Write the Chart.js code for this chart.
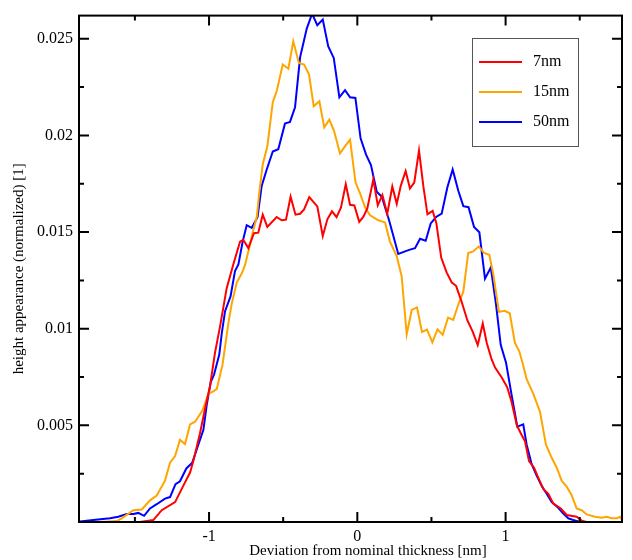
<!DOCTYPE html>
<html>
<head>
<meta charset="utf-8">
<script src="https://cdn.jsdelivr.net/npm/chart.js@4"></script>
<style>
  html, body { margin: 0; padding: 0; background: #fff; }
  #wrap { width: 632px; height: 560px; }
</style>
</head>
<body>
<div id="wrap"><canvas id="grafico"></canvas></div>
<script>
// datos
const x7 = [-1.465, -1.376, -1.319, -1.229, -1.162, -1.128, -1.106, -1.061, -1.027, -0.993, -0.960, -0.926, -0.881, -0.836, -0.791, -0.769, -0.735, -0.697, -0.668, -0.638, -0.607, -0.544, -0.510, -0.481, -0.450, -0.417, -0.386, -0.359, -0.324, -0.270, -0.233, -0.202, -0.171, -0.140, -0.110, -0.078, -0.049, -0.020, 0.013, 0.040, 0.067, 0.108, 0.138, 0.169, 0.202, 0.236, 0.266, 0.293, 0.326, 0.355, 0.384, 0.416, 0.445, 0.473, 0.508, 0.533, 0.566, 0.603, 0.637, 0.666, 0.704, 0.742, 0.778, 0.812, 0.846, 0.873, 0.906, 0.929, 0.974, 1.011, 1.041, 1.075, 1.102, 1.131, 1.158, 1.192, 1.220, 1.254, 1.288, 1.322, 1.372, 1.412, 1.479, 1.513, 1.547, 1.637];
const y7 = [0, 0.0001, 0.00061, 0.00103, 0.00205, 0.00256, 0.00315, 0.00459, 0.00586, 0.00705, 0.00875, 0.01011, 0.01210, 0.01333, 0.01450, 0.01460, 0.01417, 0.01494, 0.01497, 0.01590, 0.01527, 0.01578, 0.01561, 0.01564, 0.01683, 0.01590, 0.01595, 0.01617, 0.01681, 0.01633, 0.01480, 0.01566, 0.01607, 0.01577, 0.01628, 0.01748, 0.01641, 0.01638, 0.01553, 0.01578, 0.01621, 0.01773, 0.01638, 0.01692, 0.01595, 0.01736, 0.01646, 0.01739, 0.01816, 0.01726, 0.01756, 0.01922, 0.01739, 0.01592, 0.01610, 0.01546, 0.01367, 0.01290, 0.01239, 0.01222, 0.01138, 0.01044, 0.00985, 0.00915, 0.01027, 0.00926, 0.00841, 0.00799, 0.00748, 0.00697, 0.00620, 0.00502, 0.00459, 0.00417, 0.00315, 0.00281, 0.00230, 0.00171, 0.00146, 0.00095, 0.00070, 0.00036, 0.00027, 0.00007, 0, 0];

const x15 = [-1.735, -1.622, -1.589, -1.510, -1.454, -1.398, -1.353, -1.297, -1.263, -1.229, -1.196, -1.162, -1.128, -1.094, -1.044, -1.005, -0.975, -0.948, -0.909, -0.870, -0.847, -0.813, -0.779, -0.757, -0.724, -0.705, -0.678, -0.661, -0.638, -0.607, -0.570, -0.543, -0.503, -0.465, -0.432, -0.394, -0.359, -0.326, -0.294, -0.256, -0.223, -0.189, -0.157, -0.117, -0.083, -0.049, -0.012, 0.018, 0.052, 0.086, 0.142, 0.187, 0.220, 0.266, 0.299, 0.333, 0.367, 0.403, 0.436, 0.470, 0.506, 0.541, 0.576, 0.612, 0.647, 0.681, 0.715, 0.748, 0.782, 0.819, 0.854, 0.890, 0.917, 0.955, 0.993, 1.028, 1.063, 1.092, 1.114, 1.142, 1.187, 1.232, 1.272, 1.311, 1.345, 1.378, 1.412, 1.446, 1.479, 1.513, 1.547, 1.603, 1.648, 1.682, 1.716, 1.749, 1.771, 1.787];
const y15 = [0, 0.00005, 0.00019, 0.00061, 0.00065, 0.00112, 0.00137, 0.00214, 0.00307, 0.00341, 0.00426, 0.00403, 0.00505, 0.00519, 0.00578, 0.00663, 0.00675, 0.00688, 0.00814, 0.01027, 0.01129, 0.01239, 0.01287, 0.01330, 0.01434, 0.01500, 0.01578, 0.01705, 0.01850, 0.01943, 0.02172, 0.02231, 0.02367, 0.02345, 0.02487, 0.02375, 0.02367, 0.02316, 0.02151, 0.02177, 0.02042, 0.02082, 0.02024, 0.01907, 0.01943, 0.01978, 0.01756, 0.01701, 0.01628, 0.01587, 0.01561, 0.01550, 0.01451, 0.01375, 0.01272, 0.00971, 0.01097, 0.01110, 0.00983, 0.00995, 0.00929, 0.00997, 0.00968, 0.01058, 0.01046, 0.01125, 0.01193, 0.01392, 0.01400, 0.01426, 0.01392, 0.01383, 0.01282, 0.01087, 0.01093, 0.01080, 0.00926, 0.00883, 0.00824, 0.00739, 0.00663, 0.00570, 0.00400, 0.00332, 0.00281, 0.00214, 0.00183, 0.00137, 0.00070, 0.00061, 0.00039, 0.00027, 0.00022, 0.00027, 0.00019, 0.00019, 0.00027, 0.0001];

const x50 = [-1.870, -1.780, -1.668, -1.612, -1.555, -1.510, -1.477, -1.438, -1.398, -1.353, -1.297, -1.263, -1.226, -1.196, -1.153, -1.113, -1.078, -1.038, -1.016, -0.989, -0.966, -0.931, -0.914, -0.892, -0.855, -0.825, -0.802, -0.773, -0.746, -0.712, -0.673, -0.645, -0.611, -0.570, -0.533, -0.488, -0.454, -0.420, -0.386, -0.341, -0.305, -0.270, -0.233, -0.196, -0.159, -0.121, -0.083, -0.049, -0.013, 0.022, 0.059, 0.092, 0.131, 0.165, 0.216, 0.276, 0.322, 0.355, 0.389, 0.423, 0.461, 0.495, 0.531, 0.569, 0.607, 0.643, 0.681, 0.715, 0.750, 0.787, 0.823, 0.861, 0.900, 0.935, 0.967, 1.003, 1.041, 1.079, 1.119, 1.142, 1.176, 1.210, 1.243, 1.277, 1.311, 1.349, 1.389, 1.423, 1.456, 1.502, 1.569];
const y50 = [0.00003, 0.0001, 0.00019, 0.00027, 0.00041, 0.00041, 0.00047, 0.00032, 0.00070, 0.00092, 0.00121, 0.00129, 0.00196, 0.00211, 0.00277, 0.00307, 0.00387, 0.00477, 0.00604, 0.00722, 0.00763, 0.00866, 0.00977, 0.01091, 0.01167, 0.01298, 0.01333, 0.01451, 0.01536, 0.01522, 0.01577, 0.01739, 0.01824, 0.01917, 0.01929, 0.02061, 0.02070, 0.02146, 0.02404, 0.02553, 0.0263, 0.02570, 0.02600, 0.02460, 0.02401, 0.02197, 0.02234, 0.02197, 0.02194, 0.01985, 0.01901, 0.01847, 0.01709, 0.01683, 0.01556, 0.01387, 0.01400, 0.01409, 0.01417, 0.01465, 0.01455, 0.01545, 0.01578, 0.01595, 0.01731, 0.01824, 0.01714, 0.01634, 0.01629, 0.01527, 0.01499, 0.01259, 0.01317, 0.01129, 0.00917, 0.00824, 0.00655, 0.00493, 0.00505, 0.00400, 0.00299, 0.00239, 0.00188, 0.00146, 0.00103, 0.00078, 0.00044, 0.00019, 0.0001, 0, 0];

const xTicks = [-1, 0, 1];
const xMinor = [-1.5, -0.5, 0.5, 1.5];
const yTicks = [0.005, 0.01, 0.015, 0.02, 0.025];
const yMinor = [0.0025, 0.0075, 0.0125, 0.0175, 0.0225];
const xTitulo = 'Deviation from nominal thickness [nm]';

const serif = "'Liberation Serif', 'DejaVu Serif', serif";

function puntos(xs, ys) {
  return xs.map((x, i) => ({ x: x, y: ys[i] }));
}

// marco, ticks hacia dentro, titulo x y leyenda
const marco = {
  id: 'marco',
  afterDraw(chart) {
    const ctx = chart.ctx;
    const a = chart.chartArea;
    const sx = chart.scales.x, sy = chart.scales.y;
    ctx.save();
    ctx.strokeStyle = '#000';
    ctx.lineWidth = 2;
    ctx.strokeRect(a.left, a.top, a.right - a.left, a.bottom - a.top);
    ctx.beginPath();
    xTicks.forEach(v => {
      const p = sx.getPixelForValue(v);
      ctx.moveTo(p, a.bottom); ctx.lineTo(p, a.bottom - 10);
      ctx.moveTo(p, a.top); ctx.lineTo(p, a.top + 10);
    });
    xMinor.forEach(v => {
      const p = sx.getPixelForValue(v);
      ctx.moveTo(p, a.bottom); ctx.lineTo(p, a.bottom - 5);
      ctx.moveTo(p, a.top); ctx.lineTo(p, a.top + 5);
    });
    yTicks.forEach(v => {
      const p = sy.getPixelForValue(v);
      ctx.moveTo(a.left, p); ctx.lineTo(a.left + 10, p);
      ctx.moveTo(a.right, p); ctx.lineTo(a.right - 10, p);
    });
    yMinor.forEach(v => {
      const p = sy.getPixelForValue(v);
      ctx.moveTo(a.left, p); ctx.lineTo(a.left + 5, p);
      ctx.moveTo(a.right, p); ctx.lineTo(a.right - 5, p);
    });
    ctx.stroke();

    // titulo eje x (algo desplazado a la derecha como en el original)
    ctx.fillStyle = '#000';
    ctx.font = '15px ' + serif;
    ctx.textAlign = 'center';
    ctx.textBaseline = 'middle';
    ctx.fillText(xTitulo, 368, 551);

    // leyenda
    const lx = 472, ly = 38, lw = 106, lh = 108;
    ctx.fillStyle = '#fff';
    ctx.fillRect(lx, ly, lw, lh);
    ctx.strokeStyle = '#555';
    ctx.lineWidth = 1;
    ctx.strokeRect(lx + 0.5, ly + 0.5, lw, lh);
    ctx.font = '16px ' + serif;
    ctx.textAlign = 'left';
    chart.data.datasets.forEach((ds, i) => {
      const yy = ly + 24 + i * 30;
      ctx.strokeStyle = ds.borderColor;
      ctx.lineWidth = 2;
      ctx.beginPath();
      ctx.moveTo(lx + 7, yy); ctx.lineTo(lx + 50, yy);
      ctx.stroke();
      ctx.fillStyle = '#000';
      ctx.fillText(ds.label, lx + 61, yy);
    });
    ctx.restore();
  }
};

new Chart(document.getElementById("grafico"), {
  type: 'line',
  data: {
    datasets: [
      { label: '7nm', data: puntos(x7, y7), borderColor: '#ff0000' },
      { label: '15nm', data: puntos(x15, y15), borderColor: '#ffa500' },
      { label: '50nm', data: puntos(x50, y50), borderColor: '#0000ff' }
    ]
  },
  options: {
    responsive: true,
    maintainAspectRatio: false,
    animation: false,
    elements: {
      point: { radius: 0 },
      line: { borderWidth: 2, tension: 0, fill: false }
    },
    layout: { padding: { top: 7, right: 10, left: 0, bottom: 0 } },
    plugins: {
      legend: { display: false },
      tooltip: { enabled: false }
    },
    scales: {
      x: {
        type: 'linear',
        min: -1.877,
        max: 1.785,
        afterBuildTicks: s => { s.ticks = xTicks.map(v => ({ value: v })); },
        afterFit: s => { s.height = 38; },
        grid: { display: false, drawTicks: false },
        border: { display: false },
        ticks: { color: '#000', font: { family: serif, size: 16 }, padding: 5 }
      },
      y: {
        type: 'linear',
        min: 0,
        max: 0.0262,
        afterBuildTicks: s => { s.ticks = yTicks.map(v => ({ value: v })); },
        afterFit: s => { s.width = 79; },
        grid: { display: false, drawTicks: false },
        border: { display: false },
        ticks: { color: '#000', font: { family: serif, size: 16 }, padding: 6, callback: v => String(v) },
        title: { display: true, text: 'height appearance (normalized) [1]', color: '#000', font: { family: serif, size: 15 }, padding: { top: 10, bottom: 0 } }
      }
    }
  },
  plugins: [marco]
});
</script>
</body>
</html>
